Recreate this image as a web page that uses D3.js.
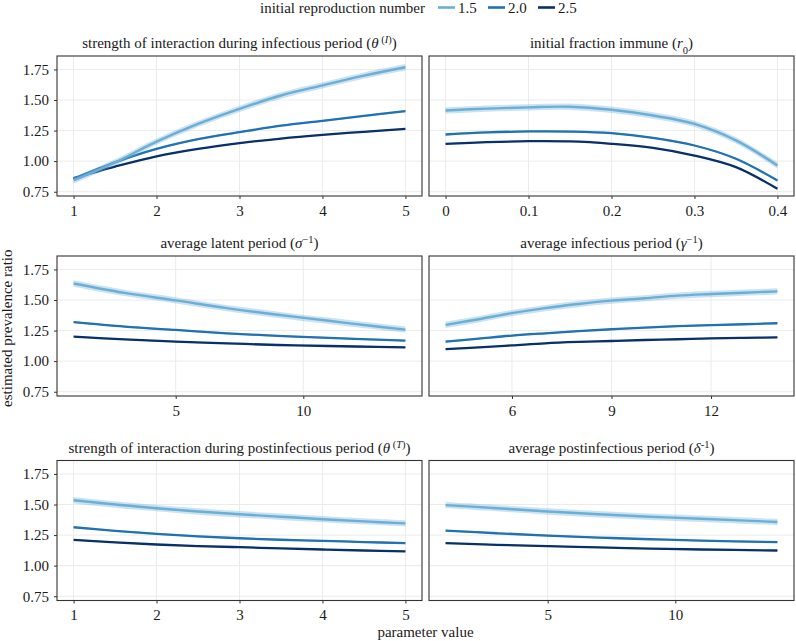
<!DOCTYPE html>
<html>
<head>
<meta charset="utf-8">
<script src="https://cdn.jsdelivr.net/npm/d3@7"></script>
<style>
  html, body { margin: 0; padding: 0; background: #fff; }
  svg { display: block; }
  text { font-family: "Liberation Serif", "Times New Roman", serif; fill: #1a1a1a; }
</style>
</head>
<body>
<svg id="chart" width="796" height="641"></svg>
<script>
// ---------------- data ----------------
const seriesNames = ["1.5", "2.0", "2.5"];
const seriesColors = ["#6baed6", "#2171b5", "#08306b"];
const ribbonHalfWidth = [0.026, 0.007, 0.005];

const yTicks = [0.75, 1.00, 1.25, 1.50, 1.75];

// panel 1: strength of interaction during infectious period
const thetaIX = [1, 1.5, 2, 2.5, 3, 3.5, 4, 4.5, 5];
const thetaI_15 = [0.842, 0.99, 1.16, 1.305, 1.428, 1.537, 1.62, 1.70, 1.768];
const thetaI_20 = [0.856, 0.99, 1.10, 1.18, 1.237, 1.29, 1.33, 1.37, 1.41];
const thetaI_25 = [0.861, 0.956, 1.04, 1.10, 1.147, 1.185, 1.215, 1.24, 1.264];
const thetaITicks = [1, 2, 3, 4, 5];

// panel 2: initial fraction immune
const r0X = [0, 0.05, 0.1, 0.15, 0.2, 0.25, 0.3, 0.35, 0.4];
const r0_15 = [1.414, 1.43, 1.44, 1.445, 1.42, 1.373, 1.305, 1.17, 0.965];
const r0_20 = [1.218, 1.235, 1.243, 1.242, 1.229, 1.19, 1.128, 1.02, 0.842];
const r0_25 = [1.142, 1.155, 1.163, 1.161, 1.142, 1.109, 1.046, 0.951, 0.774];
const r0Ticks = [0, 0.1, 0.2, 0.3, 0.4];

// panel 3: average latent period
const sigmaX = [1, 3, 5, 7, 9, 11, 12, 14];
const sigma_15 = [1.635, 1.558, 1.497, 1.434, 1.379, 1.33, 1.305, 1.258];
const sigma_20 = [1.319, 1.283, 1.255, 1.228, 1.206, 1.19, 1.183, 1.168];
const sigma_25 = [1.20, 1.178, 1.16, 1.146, 1.132, 1.124, 1.12, 1.113];
const sigmaTicks = [5, 10];

// panel 4: average infectious period
const gammaX = [4, 5, 6, 7, 8, 9, 10, 11, 12, 13, 14];
const gamma_15 = [1.297, 1.343, 1.393, 1.434, 1.467, 1.495, 1.514, 1.536, 1.549, 1.56, 1.571];
const gamma_20 = [1.159, 1.184, 1.209, 1.228, 1.245, 1.261, 1.275, 1.286, 1.294, 1.302, 1.31];
const gamma_25 = [1.099, 1.113, 1.129, 1.146, 1.157, 1.165, 1.173, 1.179, 1.187, 1.19, 1.195];
const gammaTicks = [6, 9, 12];

// panel 5: strength of interaction during postinfectious period
const thetaTX = [1, 1.5, 2, 2.5, 3, 3.5, 4, 4.5, 5];
const thetaT_15 = [1.535, 1.50, 1.47, 1.443, 1.42, 1.40, 1.38, 1.362, 1.346];
const thetaT_20 = [1.314, 1.285, 1.26, 1.24, 1.224, 1.212, 1.203, 1.193, 1.184];
const thetaT_25 = [1.21, 1.19, 1.173, 1.16, 1.151, 1.141, 1.132, 1.124, 1.116];
const thetaTTicks = [1, 2, 3, 4, 5];

// panel 6: average postinfectious period
const deltaX = [1, 3, 5, 7, 9, 11, 14];
const delta_15 = [1.495, 1.47, 1.443, 1.42, 1.40, 1.384, 1.357];
const delta_20 = [1.286, 1.265, 1.246, 1.23, 1.216, 1.205, 1.192];
const delta_25 = [1.184, 1.17, 1.16, 1.149, 1.14, 1.132, 1.124];
const deltaTicks = [5, 10];

// titles: segments [text, style] where style: "" | "i" (italic) | "sup" | "supi" | "sub"
const titles = [
  [["strength of interaction during infectious period (", ""], ["θ", "i"], [" (", "sup"], ["I", "supi"], [")", "sup"], [")", ""]],
  [["initial fraction immune (", ""], ["r", "i"], ["0", "sub"], [")", ""]],
  [["average latent period (", ""], ["σ", "i"], ["−1", "sup"], [")", ""]],
  [["average infectious period (", ""], ["γ", "i"], ["−1", "sup"], [")", ""]],
  [["strength of interaction during postinfectious period (", ""], ["θ", "i"], [" (", "sup"], ["T", "supi"], [")", "sup"], [")", ""]],
  [["average postinfectious period (", ""], ["δ", "i"], ["-1", "sup"], [")", ""]]
];

const panels = [
  { x: thetaIX, ys: [thetaI_15, thetaI_20, thetaI_25], ticks: thetaITicks, title: titles[0] },
  { x: r0X, ys: [r0_15, r0_20, r0_25], ticks: r0Ticks, title: titles[1] },
  { x: sigmaX, ys: [sigma_15, sigma_20, sigma_25], ticks: sigmaTicks, title: titles[2] },
  { x: gammaX, ys: [gamma_15, gamma_20, gamma_25], ticks: gammaTicks, title: titles[3] },
  { x: thetaTX, ys: [thetaT_15, thetaT_20, thetaT_25], ticks: thetaTTicks, title: titles[4] },
  { x: deltaX, ys: [delta_15, delta_20, delta_25], ticks: deltaTicks, title: titles[5] }
];

// ---------------- layout ----------------
const svg = d3.select("#chart");
const colX = [57, 429];
const panelW = 365;
const rowY = [56, 256, 460.5];
const panelH = 140;
const yDomain = [0.715, 1.86];
const FS = 15;
const SFS = 10.5;

const curve = d3.curveCatmullRom.alpha(0.5);
const line = d3.line().curve(curve);

panels.forEach((p, i) => {
  const col = i % 2, row = Math.floor(i / 2);
  const x0 = colX[col], y0 = rowY[row];
  const xmin = d3.min(p.x), xmax = d3.max(p.x);
  const pad = (xmax - xmin) * 0.05;
  const xs = d3.scaleLinear().domain([xmin - pad, xmax + pad]).range([0, panelW]);
  const ys = d3.scaleLinear().domain(yDomain).range([panelH, 0]);

  const g = svg.append("g").attr("transform", `translate(${x0},${y0})`);

  // grid
  g.append("g").selectAll("line").data(yTicks).join("line")
    .attr("x1", 0).attr("x2", panelW)
    .attr("y1", d => ys(d)).attr("y2", d => ys(d))
    .attr("stroke", "#ebebeb").attr("stroke-width", 1);
  g.append("g").selectAll("line").data(p.ticks).join("line")
    .attr("y1", 0).attr("y2", panelH)
    .attr("x1", d => xs(d)).attr("x2", d => xs(d))
    .attr("stroke", "#ebebeb").attr("stroke-width", 1);

  [2, 1, 0].forEach(si => {
    const vals = p.ys[si];
    const pts = p.x.map((xv, k) => [xv, vals[k]]);
    const area = d3.area().curve(curve)
      .x(d => xs(d[0]))
      .y0(d => ys(d[1] - ribbonHalfWidth[si]))
      .y1(d => ys(d[1] + ribbonHalfWidth[si]));
    g.append("path").attr("d", area(pts))
      .attr("fill", seriesColors[si]).attr("opacity", 0.35);
    g.append("path").attr("d", line(pts.map(d => [xs(d[0]), ys(d[1])])))
      .attr("fill", "none").attr("stroke", seriesColors[si])
      .attr("stroke-width", si === 0 ? 2.4 : 2.3);
  });

  // border
  g.append("rect").attr("x", 0).attr("y", 0).attr("width", panelW).attr("height", panelH)
    .attr("fill", "none").attr("stroke", "#333").attr("stroke-width", 1.1);

  // x axis
  const xa = g.append("g").attr("transform", `translate(0,${panelH})`)
    .call(d3.axisBottom(xs).tickValues(p.ticks).tickSize(3).tickPadding(6).tickFormat(d => String(d)));
  xa.select(".domain").remove();
  xa.selectAll("line").attr("stroke", "#333");
  xa.selectAll("text").attr("font-size", FS).attr("fill", "#1a1a1a")
    .style("font-family", '"Liberation Serif", serif');

  // y axis on left column
  if (col === 0) {
    const ya = g.append("g")
      .call(d3.axisLeft(ys).tickValues(yTicks).tickSize(3).tickPadding(5).tickFormat(d3.format(".2f")));
    ya.select(".domain").remove();
    ya.selectAll("line").attr("stroke", "#333");
    ya.selectAll("text").attr("font-size", FS).attr("fill", "#1a1a1a")
      .style("font-family", '"Liberation Serif", serif');
  }

  // title
  const t = g.append("text").attr("x", panelW / 2).attr("y", -8)
    .attr("text-anchor", "middle").attr("font-size", FS);
  p.title.forEach(([txt, st]) => {
    const ts = t.append("tspan").text(txt);
    if (st === "i" || st === "supi") ts.attr("font-style", "italic");
    if (st === "sup" || st === "supi") ts.attr("font-size", SFS).attr("baseline-shift", "super");
    if (st === "sub") ts.attr("font-size", SFS).attr("baseline-shift", "sub");
  });
});

// axis labels
svg.append("text").attr("x", (colX[0] + colX[1] + panelW) / 2).attr("y", 637)
  .attr("text-anchor", "middle").attr("font-size", FS).text("parameter value");
svg.append("text")
  .attr("transform", `translate(12,${(rowY[0] + rowY[2] + panelH) / 2}) rotate(-90)`)
  .attr("text-anchor", "middle").attr("font-size", FS).text("estimated prevalence ratio");

// legend
const lg = svg.append("g");
lg.append("text").attr("x", 425).attr("y", 13).attr("text-anchor", "end")
  .attr("font-size", FS).text("initial reproduction number");
const legX = d3.scaleBand().domain(seriesNames).range([438, 588]);
seriesNames.forEach((n, i) => {
  const lx = legX(n);
  lg.append("line").attr("x1", lx).attr("x2", lx + 17).attr("y1", 7.5).attr("y2", 7.5)
    .attr("stroke", seriesColors[i]).attr("stroke-width", 2.6);
  lg.append("text").attr("x", lx + 20).attr("y", 13).attr("font-size", FS).text(n);
});
</script>
</body>
</html>
